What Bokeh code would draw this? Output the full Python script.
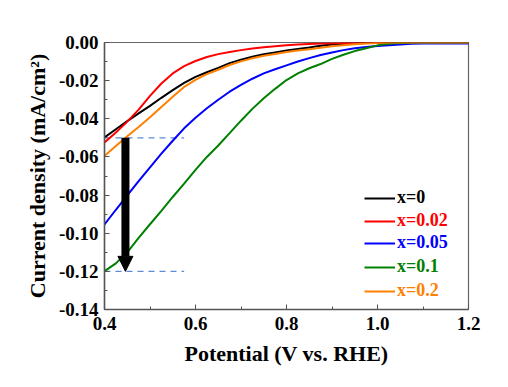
from bokeh.plotting import figure
from bokeh.models import (Range1d, FixedTicker, NumeralTickFormatter, Legend, LegendItem,
                          Arrow, NormalHead)
from bokeh.embed import file_html
from bokeh.resources import INLINE

# ---- data ----
potential = [0.400, 0.425, 0.450, 0.475, 0.500, 0.525, 0.550, 0.575, 0.600, 0.625,
             0.650, 0.675, 0.700, 0.725, 0.750, 0.775, 0.800, 0.825, 0.850, 0.875,
             0.900, 0.925, 0.950, 0.975, 1.000, 1.025, 1.050, 1.075, 1.100, 1.125,
             1.150, 1.175, 1.200]
j_x0 = [-0.0498, -0.0455, -0.0412, -0.0372, -0.0332, -0.0290, -0.0250, -0.0212, -0.0180,
        -0.0156, -0.0133, -0.0108, -0.0090, -0.0075, -0.0062, -0.0052, -0.0042, -0.0034,
        -0.0026, -0.0017, -0.0010, -0.0007, -0.0004, -0.0002, -0.0001, 0.0, 0.0, 0.0,
        0.0, 0.0, 0.0, 0.0, 0.0]
j_x002 = [-0.0524, -0.0472, -0.0415, -0.0352, -0.0280, -0.0215, -0.0162, -0.0124, -0.0097,
          -0.0076, -0.0061, -0.0050, -0.0040, -0.0032, -0.0025, -0.0020, -0.0015, -0.0011,
          -0.0008, -0.0005, -0.0004, -0.0003, -0.0002, -0.0001, 0.0, 0.0, 0.0, 0.0,
          0.0, 0.0, 0.0, 0.0, 0.0]
j_x005 = [-0.0954, -0.0877, -0.0802, -0.0727, -0.0655, -0.0583, -0.0515, -0.0450, -0.0395,
          -0.0345, -0.0300, -0.0258, -0.0222, -0.0190, -0.0162, -0.0140, -0.0120, -0.0100,
          -0.0082, -0.0066, -0.0052, -0.0040, -0.0030, -0.0023, -0.0018, -0.0014, -0.0010,
          -0.0007, -0.0005, -0.0005, -0.0005, -0.0005, -0.0005]
j_x01 = [-0.1199, -0.1158, -0.1100, -0.1025, -0.0953, -0.0883, -0.0810, -0.0740, -0.0668,
         -0.0600, -0.0540, -0.0475, -0.0410, -0.0348, -0.0292, -0.0243, -0.0197, -0.0162,
         -0.0135, -0.0113, -0.0086, -0.0064, -0.0045, -0.0030, -0.0015, -0.0007, -0.0003,
         0.0, 0.0, 0.0, 0.0, 0.0, 0.0]
j_x02 = [-0.0594, -0.0543, -0.0492, -0.0443, -0.0392, -0.0338, -0.0285, -0.0233, -0.0196,
         -0.0166, -0.0143, -0.0118, -0.0099, -0.0083, -0.0070, -0.0060, -0.0050, -0.0042,
         -0.0035, -0.0027, -0.0020, -0.0014, -0.0009, -0.0005, -0.0002, 0.0, 0.0, 0.0,
         0.0, 0.0, 0.0, 0.0, 0.0]

series_labels = ["x=0", "x=0.02", "x=0.05", "x=0.1", "x=0.2"]
series_values = [j_x0, j_x002, j_x005, j_x01, j_x02]
series_colors = ["#000000", "#ff0000", "#0000ff", "#008000", "#ff8000"]

ref_levels = [-0.05, -0.12]      # dashed reference lines
ref_x_start = 0.40
ref_x_end = 0.575
arrow_x = 0.446

x_ticks = [0.4, 0.6, 0.8, 1.0, 1.2]
x_minor = [0.5, 0.7, 0.9, 1.1]
y_ticks = [0.00, -0.02, -0.04, -0.06, -0.08, -0.10, -0.12, -0.14]
y_minor = [-0.01, -0.03, -0.05, -0.07, -0.09, -0.11, -0.13]

FONT = "Liberation Serif"

p = figure(width=500, height=379, output_backend="svg", toolbar_location=None,
           x_range=Range1d(0.4, 1.2), y_range=Range1d(-0.14, 0.0),
           min_border_left=104, min_border_right=32, min_border_top=42, min_border_bottom=70)
p.background_fill_color = "white"
p.border_fill_color = "white"
p.grid.visible = False
p.outline_line_color = "#666666"
p.outline_line_width = 1.2

# dashed reference lines
p.segment(x0=[ref_x_start] * len(ref_levels), y0=ref_levels,
          x1=[ref_x_end] * len(ref_levels), y1=ref_levels,
          line_color="#5b8bd6", line_width=1.3, line_dash="6 5")

renderers = []
for lab, vals, col in zip(series_labels, series_values, series_colors):
    r = p.line(potential, vals, line_color=col, line_width=2)
    renderers.append(r)

# arrow
p.add_layout(Arrow(end=NormalHead(size=15, fill_color="black", line_color="black"),
                   x_start=arrow_x, y_start=ref_levels[0], x_end=arrow_x, y_end=ref_levels[1],
                   line_width=8, line_color="black"))

# axes
for ax in (p.xaxis[0], p.yaxis[0]):
    ax.axis_line_color = "#555555"
    ax.axis_line_width = 1.5
    ax.major_tick_in = 5
    ax.major_tick_out = 0
    ax.minor_tick_in = 3
    ax.minor_tick_out = 0
    ax.major_tick_line_color = "#555555"
    ax.minor_tick_line_color = "#555555"
    ax.major_label_text_font = FONT
    ax.major_label_text_font_style = "bold"
    ax.major_label_text_font_size = "19px"
    ax.major_label_text_color = "black"
    ax.axis_label_text_font = FONT
    ax.axis_label_text_font_style = "bold"
    ax.axis_label_text_font_size = "22px"
    ax.axis_label_text_color = "black"

p.xaxis.ticker = FixedTicker(ticks=x_ticks, minor_ticks=x_minor)
p.yaxis.ticker = FixedTicker(ticks=y_ticks, minor_ticks=y_minor)
p.xaxis.formatter = NumeralTickFormatter(format="0.0")
p.yaxis.formatter = NumeralTickFormatter(format="0.00")
p.xaxis.axis_label = "Potential (V vs. RHE)"
p.yaxis.axis_label = "Current density (mA/cm²)"
p.xaxis.major_label_standoff = 7
p.yaxis.major_label_standoff = 6
p.xaxis.axis_label_standoff = 8
p.yaxis.axis_label_standoff = 6

# legends, one per entry so each label has its own colour
legend_y = [101, 78, 56, 32, 8]
for lab, r, col, ly in zip(series_labels, renderers, series_colors, legend_y):
    lg = Legend(items=[LegendItem(label=lab, renderers=[r])], location=(260, ly),
                background_fill_alpha=0, border_line_alpha=0, padding=0, margin=0,
                glyph_width=31, glyph_height=20, label_height=20, label_standoff=2,
                label_text_font=FONT, label_text_font_style="bold",
                label_text_font_size="18px", label_text_color=col)
    p.add_layout(lg, "center")

open("out.html", "w").write(file_html(p, INLINE))
